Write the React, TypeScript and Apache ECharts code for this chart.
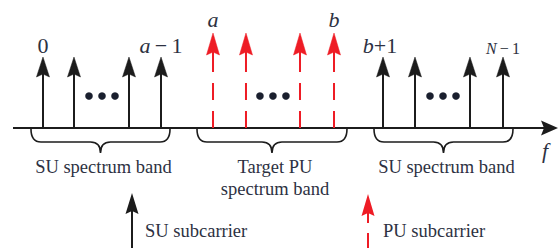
import React, { useEffect, useRef } from 'react';
import * as echarts from 'echarts';

// Frequency positions of the subcarriers (frequency axis runs 0..100)
const suLeftFreq = [5.5, 11.19, 21.28, 27.16];
const puFreq = [36.7, 42.75, 52.66, 58.9];
const suRightFreq = [67.89, 73.76, 83.85, 89.91];
const suAmplitude = 0.71;
const puAmplitude = 0.95;
// "•••" ellipsis groups
const dotFreq = [16.33, 47.7, 78.9];
const dotLevel = 0.32;
// Subcarrier index labels (rich markup: i = italic variable)
const carrierLabels = ['0', '{i|a}{n|\u2009\u2212\u20091}', '{i|a}', '{i|b}', '{i|b}{n|+1}', '{s|N}{sn|\u2009\u2212\u20091}'];
const labelFreq = [suLeftFreq[0], suLeftFreq[3], puFreq[0], puFreq[3], suRightFreq[0], suRightFreq[3]];
const labelAmp = [suAmplitude, suAmplitude, puAmplitude, puAmplitude, suAmplitude, suAmplitude];
// Spectrum bands under braces
const bandStart = [3.3, 33.76, 66.24];
const bandEnd = [28.81, 61.28, 91.74];
const bandLabels = ['SU spectrum band', 'Target PU\nspectrum band', 'SU spectrum band'];
const legendLabels = ['SU subcarrier', 'PU subcarrier'];
const freqMin = 0;
const freqMax = 100;
const axisName = 'f';

const BLACK = '#1c1c1c';
const RED = '#ee1c25';
const TEXT = '#2d3142';
const SERIF = 'Liberation Serif';

function arrowHead(tx: number, ty: number, h: number, w: number, fill: string) {
  return {
    type: 'polygon',
    shape: { points: [[tx, ty], [tx - w / 2, ty + h], [tx, ty + h - 3], [tx + w / 2, ty + h]] },
    style: { fill, stroke: fill, lineWidth: 0.5 },
  };
}

function txt(size: number, italic = false) {
  return { fontFamily: SERIF, fontSize: size, fontStyle: italic ? 'italic' : 'normal', fill: TEXT };
}

export default function App() {
  const ref = useRef<HTMLDivElement>(null);
  useEffect(() => {
    if (!ref.current) return;
    const chart = echarts.init(ref.current, undefined, { renderer: 'svg' });

    const carrierData = [
      ...suLeftFreq.map((f) => [f, suAmplitude, 0]),
      ...puFreq.map((f) => [f, puAmplitude, 1]),
      ...suRightFreq.map((f) => [f, suAmplitude, 0]),
    ];
    const labelData = carrierLabels.map((_, i) => [labelFreq[i], labelAmp[i], i]);
    const dotData = dotFreq.map((f) => [f, dotLevel]);
    const bandData = bandStart.map((s, i) => [s, bandEnd[i], 0, i]);

    const richStyles = {
      i: txt(22, true),
      n: txt(22),
      s: txt(16, true),
      sn: txt(16),
    };

    chart.setOption({
      animation: false,
      grid: { left: 13, right: 0, top: 0, bottom: 0 },
      xAxis: { type: 'value', min: freqMin, max: freqMax, show: false },
      yAxis: { type: 'value', min: -1.2, max: 1.28, show: false },
      series: [
        {
          type: 'custom',
          name: 'axis',
          silent: true,
          clip: false,
          data: [[freqMin, 0, freqMax]],
          encode: { x: [0, 2], y: 1 },
          renderItem: (params: any, api: any) => {
            const [x0, y0] = api.coord([api.value(0), api.value(1)]);
            const [x1] = api.coord([api.value(2), 0]);
            return {
              type: 'group',
              children: [
                { type: 'line', shape: { x1: x0, y1: y0, x2: x1 - 14, y2: y0 }, style: { stroke: BLACK, lineWidth: 2 } },
                {
                  type: 'polygon',
                  shape: { points: [[x1, y0], [x1 - 17, y0 - 7.5], [x1 - 14, y0], [x1 - 17, y0 + 7.5]] },
                  style: { fill: BLACK },
                },
                {
                  type: 'text',
                  style: {
                    x: x1 - 13, y: y0 + 22, text: axisName,
                    ...txt(22, true),
                    align: 'center', verticalAlign: 'middle', textAlign: 'center', textVerticalAlign: 'middle',
                  },
                },
              ],
            };
          },
        },
        {
          type: 'custom',
          name: 'carriers',
          silent: true,
          clip: false,
          data: carrierData,
          encode: { x: 0, y: 1 },
          renderItem: (params: any, api: any) => {
            const f = api.value(0);
            const a = api.value(1);
            const kind = api.value(2);
            const [tx, ty] = api.coord([f, a]);
            const [, by] = api.coord([f, 0]);
            const color = kind ? RED : BLACK;
            const h = kind ? 22 : 20;
            return {
              type: 'group',
              children: [
                {
                  type: 'line',
                  shape: { x1: tx, y1: ty + h - 3, x2: tx, y2: by },
                  style: kind
                    ? { stroke: color, lineWidth: 2, lineDash: [20, 11, 17, 11] }
                    : { stroke: color, lineWidth: 2 },
                },
                arrowHead(tx, ty, h, 13, color),
              ],
            };
          },
        },
        {
          type: 'custom',
          name: 'labels',
          silent: true,
          clip: false,
          data: labelData,
          encode: { x: 0, y: 1 },
          renderItem: (params: any, api: any) => {
            const idx = api.value(2);
            const [tx, ty] = api.coord([api.value(0), api.value(1)]);
            const small = idx === 5;
            const dx = idx === 4 ? -3 : 0;
            const dy = idx === 2 || idx === 3 ? -14 : small ? -9 : -12;
            return {
              type: 'text',
              style: {
                x: tx + dx, y: ty + dy, text: carrierLabels[idx],
                ...txt(22), rich: richStyles,
                align: 'center', verticalAlign: 'middle', textAlign: 'center', textVerticalAlign: 'middle',
              },
            };
          },
        },
        {
          type: 'custom',
          name: 'dots',
          silent: true,
          clip: false,
          data: dotData,
          encode: { x: 0, y: 1 },
          renderItem: (params: any, api: any) => {
            const [cx, cy] = api.coord([api.value(0), api.value(1)]);
            return {
              type: 'group',
              children: [-13, 0, 13].map((d) => ({
                type: 'circle',
                shape: { cx: cx + d, cy, r: 3.8 },
                style: { fill: '#1a1f2e' },
              })),
            };
          },
        },
        {
          type: 'custom',
          name: 'bands',
          silent: true,
          clip: false,
          data: bandData,
          encode: { x: [0, 1], y: 2 },
          renderItem: (params: any, api: any) => {
            const idx = api.value(3);
            const [x1, y] = api.coord([api.value(0), api.value(2)]);
            const [x2] = api.coord([api.value(1), 0]);
            const xc = (x1 + x2) / 2;
            const y0 = y + 1;
            const y1 = y + 14;
            const y2 = y + 25;
            const r = 10;
            const d =
              `M${x1},${y0} Q${x1},${y1} ${x1 + r},${y1} L${xc - r},${y1} Q${xc},${y1} ${xc},${y2} ` +
              `Q${xc},${y1} ${xc + r},${y1} L${x2 - r},${y1} Q${x2},${y1} ${x2},${y0}`;
            return {
              type: 'group',
              children: [
                { type: 'path', shape: { pathData: d }, style: { stroke: BLACK, lineWidth: 1.6, fill: 'none' } },
                {
                  type: 'text',
                  style: {
                    x: xc + 3, y: y + 28, text: bandLabels[idx],
                    ...txt(18.5), lineHeight: 22,
                    align: 'center', verticalAlign: 'top', textAlign: 'center', textVerticalAlign: 'top',
                  },
                },
              ],
            };
          },
        },
      ],
      graphic: [
        // legend: SU subcarrier
        { type: 'line', shape: { x1: 132, y1: 210, x2: 132, y2: 248 }, style: { stroke: BLACK, lineWidth: 2 }, silent: true },
        {
          type: 'polygon',
          shape: { points: [[132, 193], [125.5, 214], [132, 211], [138.5, 214]] },
          style: { fill: BLACK }, silent: true,
        },
        {
          type: 'text', x: 145, y: 231,
          style: { text: legendLabels[0], ...txt(18.5), textAlign: 'left', textVerticalAlign: 'middle', align: 'left', verticalAlign: 'middle' },
          silent: true,
        },
        // legend: PU subcarrier
        { type: 'line', shape: { x1: 368, y1: 212, x2: 368, y2: 223 }, style: { stroke: RED, lineWidth: 2 }, silent: true },
        { type: 'line', shape: { x1: 368, y1: 233, x2: 368, y2: 248 }, style: { stroke: RED, lineWidth: 2 }, silent: true },
        {
          type: 'polygon',
          shape: { points: [[368, 194], [361.5, 216], [368, 213], [374.5, 216]] },
          style: { fill: RED }, silent: true,
        },
        {
          type: 'text', x: 383, y: 231,
          style: { text: legendLabels[1], ...txt(18.5), textAlign: 'left', textVerticalAlign: 'middle', align: 'left', verticalAlign: 'middle' },
          silent: true,
        },
      ],
    });
    return () => chart.dispose();
  }, []);
  return <div ref={ref} style={{ position: 'absolute', left: 0, top: 0, width: 558, height: 248, background: '#fff' }} />;
}
